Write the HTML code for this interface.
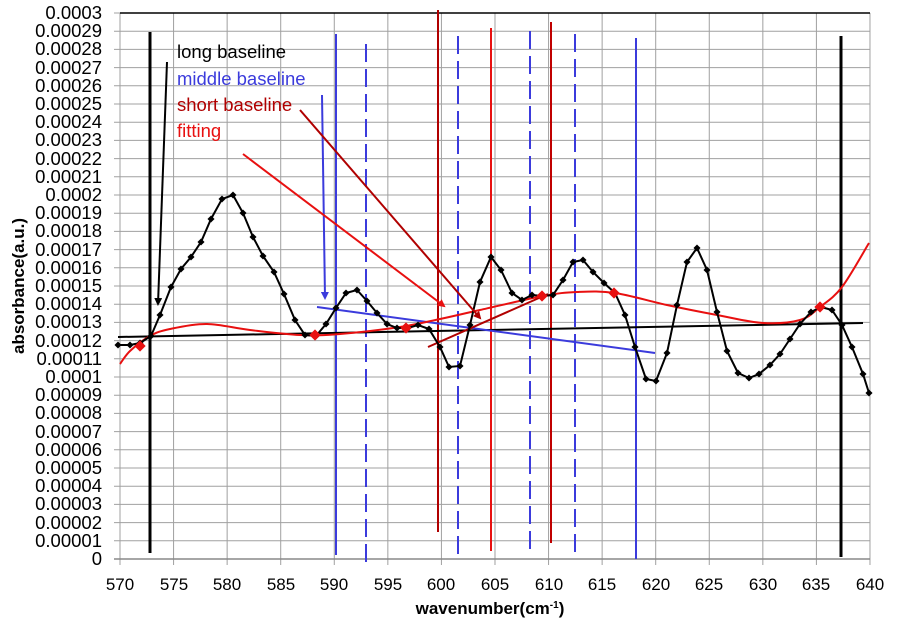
<!DOCTYPE html>
<html><head><meta charset="utf-8"><style>
body{margin:0;background:#fff}
svg text{font-family:"Liberation Sans",sans-serif;}
</style></head><body>
<svg id="s" width="898" height="625" viewBox="0 0 898 625" xmlns="http://www.w3.org/2000/svg">
<g id="grid" stroke="#a0a0a0" stroke-width="1"></g>
<line x1="120" y1="13" x2="870" y2="13" stroke="#000" stroke-width="1.5"/>
<line x1="114" y1="559" x2="870" y2="559" stroke="#888" stroke-width="1.5"/>
<g font-size="18.5" text-anchor="end" fill="#000" id="yl">
<text x="102" y="19">0.0003</text><text x="102" y="37">0.00029</text><text x="102" y="55">0.00028</text><text x="102" y="74">0.00027</text><text x="102" y="92">0.00026</text><text x="102" y="110">0.00025</text><text x="102" y="128">0.00024</text><text x="102" y="146">0.00023</text><text x="102" y="165">0.00022</text><text x="102" y="183">0.00021</text><text x="102" y="201">0.0002</text><text x="102" y="219">0.00019</text><text x="102" y="237">0.00018</text><text x="102" y="256">0.00017</text><text x="102" y="274">0.00016</text><text x="102" y="292">0.00015</text><text x="102" y="310">0.00014</text><text x="102" y="328">0.00013</text><text x="102" y="347">0.00012</text><text x="102" y="365">0.00011</text><text x="102" y="383">0.0001</text><text x="102" y="401">0.00009</text><text x="102" y="419">0.00008</text><text x="102" y="438">0.00007</text><text x="102" y="456">0.00006</text><text x="102" y="474">0.00005</text><text x="102" y="492">0.00004</text><text x="102" y="510">0.00003</text><text x="102" y="529">0.00002</text><text x="102" y="547">0.00001</text><text x="102" y="565">0</text>
</g>
<g font-size="17" text-anchor="middle">
<text x="120" y="590">570</text><text x="174" y="590">575</text><text x="227" y="590">580</text><text x="281" y="590">585</text><text x="334" y="590">590</text><text x="388" y="590">595</text><text x="441" y="590">600</text><text x="495" y="590">605</text><text x="549" y="590">610</text><text x="602" y="590">615</text><text x="656" y="590">620</text><text x="709" y="590">625</text><text x="763" y="590">630</text><text x="816" y="590">635</text><text x="870" y="590">640</text>
</g>
<text x="490" y="614" font-size="17" font-weight="bold" text-anchor="middle">wavenumber(cm<tspan font-size="10" dy="-6">-1</tspan><tspan dy="6">)</tspan></text>
<text transform="translate(24,286) rotate(-90)" font-size="17" font-weight="bold" text-anchor="middle">absorbance(a.u.)</text>
<g stroke-width="2">
<line x1="150" y1="32" x2="150" y2="553" stroke="#000" stroke-width="3"/>
<line x1="841" y1="36" x2="841" y2="557" stroke="#000" stroke-width="3"/>
<line x1="336" y1="34" x2="336" y2="555" stroke="#3b3bdc"/>
<line x1="636" y1="38" x2="636" y2="559" stroke="#3b3bdc"/>
<g stroke="#3b3bdc" stroke-dasharray="18,7">
<line x1="366" y1="44" x2="366" y2="562"/><line x1="458" y1="36" x2="458" y2="555"/><line x1="530" y1="31" x2="530" y2="555"/><line x1="575" y1="34" x2="575" y2="555"/></g>
<line x1="438" y1="10" x2="438" y2="532" stroke="#b00000"/>
<line x1="491" y1="28" x2="491" y2="551" stroke="#e81010"/>
<line x1="551" y1="22" x2="551" y2="543" stroke="#c00000"/>
</g>
<line x1="118" y1="337" x2="863" y2="323" stroke="#000" stroke-width="2"/>
<line x1="317" y1="307" x2="655" y2="353" stroke="#3b3bdc" stroke-width="2"/>
<line x1="428" y1="347" x2="548" y2="294" stroke="#b00000" stroke-width="2"/>
<path id="fit" fill="none" stroke="#e81010" stroke-width="2"/>
<path id="blk" fill="none" stroke="#000" stroke-width="2"/>
<g id="mk"></g>
<g font-size="18.5">
<text x="177" y="58" fill="#000">long baseline</text>
<text x="177" y="85" fill="#3b3bdc">middle baseline</text>
<text x="177" y="111" fill="#b00000">short baseline</text>
<text x="177" y="137" fill="#e81010">fitting</text>
</g>
<defs>
<marker id="a" markerWidth="8" markerHeight="8" refX="6" refY="4" orient="auto" markerUnits="userSpaceOnUse"><path d="M0,0L8,4L0,8z" fill="context-stroke"/></marker>
</defs>
<line x1="167" y1="62" x2="158" y2="304" stroke="#000" stroke-width="2" marker-end="url(#a)"/>
<line x1="322" y1="95" x2="325" y2="298" stroke="#3b3bdc" stroke-width="2" marker-end="url(#a)"/>
<line x1="300" y1="110" x2="480" y2="318" stroke="#b00000" stroke-width="2" marker-end="url(#a)"/>
<line x1="243" y1="154" x2="444" y2="306" stroke="#e81010" stroke-width="2" marker-end="url(#a)"/>
</svg>
<script>
var X=w=>120+(w-570)*10.714;
var g=document.getElementById('grid'),h='';
for(var i=0;i<=14;i++){var x=X(570+5*i);h+='<line x1="'+x+'" y1="13" x2="'+x+'" y2="565"/>';}
for(var j=0;j<=30;j++){var y=559-j*18.2;h+='<line x1="114" y1="'+y+'" x2="870" y2="'+y+'"/>';}
g.innerHTML=h;
var b=[[118,345],[130,345],[140,343],[151,336],[160,315],[171,287],[181,269],[191,257],[201,242],[211,219],[222,199],[233,195],[243,213],[253,237],[263,256],[274,272],[284,294],[295,320],[305,335],[316,336],[326,324],[336,308],[346,293],[357,290],[367,301],[377,313],[387,324],[397,328],[408,328],[418,325],[429,329],[440,347],[449,367],[460,366],[470,325],[480,282],[491,257],[501,270],[512,293],[522,300],[532,295],[543,296],[553,295],[563,280],[573,262],[583,260],[593,272],[604,283],[615,293],[625,315],[635,347],[646,379],[656,381],[667,353],[677,305],[687,262],[697,248],[707,270],[717,312],[727,351],[738,373],[749,378],[759,374],[770,365],[780,354],[790,339],[800,324],[811,312],[821,307],[832,310],[842,325],[852,347],[863,374],[869,393]];
var d='',m='';
b.forEach((p,i)=>{d+=(i?'L':'M')+p[0]+','+p[1];m+='<rect x="'+(p[0]-2.5)+'" y="'+(p[1]-2.5)+'" width="5" height="5" transform="rotate(45 '+p[0]+' '+p[1]+')" fill="#000"/>';});
document.getElementById('blk').setAttribute('d',d);
var f=[[120,364],[130,351],[150,336],[170,329],[207,324],[250,330],[300,335],[340,334],[400,327],[440,319],[480,310],[543,296],[577,292],[615,293],[667,305],[717,315],[763,323],[800,320],[820,307],[842,287],[869,243]];
var fd='M'+f[0][0]+','+f[0][1];
for(var k=0;k<f.length-1;k++){var p0=f[Math.max(k-1,0)],p1=f[k],p2=f[k+1],p3=f[Math.min(k+2,f.length-1)];
var c1x=p1[0]+(p2[0]-p0[0])/6,c1y=p1[1]+(p2[1]-p0[1])/6,c2x=p2[0]-(p3[0]-p1[0])/6,c2y=p2[1]-(p3[1]-p1[1])/6;
fd+='C'+c1x.toFixed(1)+','+c1y.toFixed(1)+' '+c2x.toFixed(1)+','+c2y.toFixed(1)+' '+p2[0]+','+p2[1];}
document.getElementById('fit').setAttribute('d',fd);
[[140,346],[315,335],[406,328],[542,296],[614,293],[820,307]].forEach(p=>{var x=p[0],y=p[1];m+='<rect x="'+(x-4)+'" y="'+(y-4)+'" width="8" height="8" transform="rotate(45 '+x+' '+y+')" fill="#e81010"/>';});
document.getElementById('mk').innerHTML=m;
</script>
</body></html>
